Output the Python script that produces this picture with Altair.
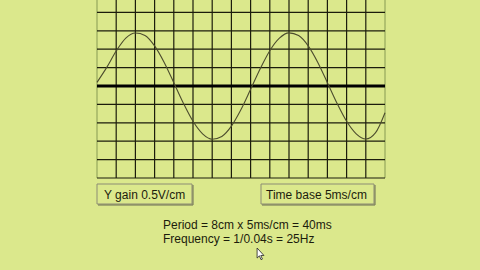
import altair as alt
import pandas as pd

# ---- values ----
# trace samples: horizontal position (cm from the left edge) and deflection (cm)
wave_x = [0, 0.5, 1, 1.5, 2, 2.5, 3, 3.5, 4, 4.5, 5, 5.5, 6, 6.5, 7, 7.5,
          8, 8.5, 9, 9.5, 10, 10.5, 11, 11.5, 12, 12.5, 13, 13.5, 14, 14.5, 15]
wave_y = [0.2, 1.0, 1.9, 2.6, 2.88, 2.75, 2.18, 1.28, 0.18, -0.94, -1.92, -2.6,
          -2.89, -2.74, -2.18, -1.28, -0.18, 0.94, 1.92, 2.6, 2.89, 2.74, 2.18,
          1.28, 0.18, -0.94, -1.92, -2.6, -2.88, -2.55, -1.45]
# graticule lines (cm)
grid_x = [1, 2, 3, 4, 5, 6, 7, 8, 9, 10, 11, 12, 13, 14]
edge_x = [0, 15]
grid_y = [-5, -4, -3, -2, -1, 1, 2, 3, 4]
baseline_y = [0]
# labels
gain_label = ["Y gain 0.5V/cm"]
time_label = ["Time base 5ms/cm"]
result_lines = ["Period = 8cm x 5ms/cm = 40ms", "Frequency = 1/0.04s = 25Hz"]

X_MIN, X_MAX = 0, 15
Y_MIN, Y_MAX = -5, 4.674

BG = "#dbe88c"
INK = "#1c1c0c"
FONT = "Liberation Sans"

xs = alt.Scale(domain=[X_MIN, X_MAX], nice=False, zero=False)
ys = alt.Scale(domain=[Y_MIN, Y_MAX], nice=False, zero=False)

vdf = pd.DataFrame({"x": grid_x, "y0": Y_MIN, "y1": Y_MAX})
edf = pd.DataFrame({"x": edge_x, "y0": Y_MIN, "y1": Y_MAX})
hdf = pd.DataFrame({"y": grid_y, "x0": X_MIN, "x1": X_MAX})
bdf = pd.DataFrame({"y": baseline_y, "x0": X_MIN, "x1": X_MAX})
wdf = pd.DataFrame({"x": wave_x, "y": wave_y})

vlines = alt.Chart(vdf).mark_rule(color=INK, strokeWidth=1.2).encode(
    x=alt.X("x:Q", scale=xs, axis=None),
    y=alt.Y("y0:Q", scale=ys, axis=None), y2="y1:Q")
edges = alt.Chart(edf).mark_rule(color="#a3b466", strokeWidth=1.5).encode(
    x=alt.X("x:Q", scale=xs, axis=None),
    y=alt.Y("y0:Q", scale=ys, axis=None), y2="y1:Q")
hlines = alt.Chart(hdf).mark_rule(color=INK, strokeWidth=1.2).encode(
    y=alt.Y("y:Q", scale=ys, axis=None),
    x=alt.X("x0:Q", scale=xs, axis=None), x2="x1:Q")
base = alt.Chart(bdf).mark_rule(color="#000000", strokeWidth=3).encode(
    y=alt.Y("y:Q", scale=ys, axis=None),
    x=alt.X("x0:Q", scale=xs, axis=None), x2="x1:Q")
wave = alt.Chart(wdf).mark_line(color="#4d4d2e", strokeWidth=1.1,
                                interpolate="monotone").encode(
    x=alt.X("x:Q", scale=xs, axis=None),
    y=alt.Y("y:Q", scale=ys, axis=None))


def box(label, x0, x1, tx):
    d = pd.DataFrame({"t": label})
    rect = alt.Chart(d).mark_rect(fill=BG, stroke="#8c8c74", strokeWidth=1).encode(
        x=alt.value(x0), x2=alt.value(x1), y=alt.value(184), y2=alt.value(204))
    shadow_b = alt.Chart(d).mark_rule(color="#6a6a55", strokeWidth=1).encode(
        x=alt.value(x0 + 1), x2=alt.value(x1 + 1), y=alt.value(205))
    shadow_r = alt.Chart(d).mark_rule(color="#6a6a55", strokeWidth=1).encode(
        x=alt.value(x1 + 1), y=alt.value(185), y2=alt.value(205))
    txt = alt.Chart(d).mark_text(align="left", baseline="alphabetic", font=FONT,
                                 fontSize=12, color=INK).encode(
        text="t:N", x=alt.value(tx), y=alt.value(198.5))
    return rect + shadow_b + shadow_r + txt


gain_box = box(gain_label, 0, 95, 7)
time_box = box(time_label, 164, 277, 169)

rdf = pd.DataFrame({"t": result_lines, "row": [0, 1]})
results = alt.Chart(rdf).mark_text(align="left", baseline="alphabetic", font=FONT,
                                   fontSize=12, color=INK).encode(
    text="t:N", x=alt.value(66),
    y=alt.Y("row:Q", scale=alt.Scale(domain=[0, 1], range=[229, 243]), axis=None))

cursor_path = "M-0.6,-1 L-0.6,0.55 L-0.25,0.2 L0.0,0.8 L0.22,0.7 L-0.03,0.15 L0.45,0.15 Z"
cursor = alt.Chart(pd.DataFrame({"c": [1]})).mark_point(
    shape=cursor_path, size=169, filled=True, fill="#ffffff", stroke="#222222",
    strokeWidth=0.8, opacity=1).encode(x=alt.value(164), y=alt.value(254.5))

chart = alt.layer(edges, vlines, hlines, base, wave, gain_box, time_box, results, cursor).properties(
    width=288, height=178,
    autosize=alt.AutoSizeParams(type="none"),
    padding={"left": 97, "top": 0, "right": 95, "bottom": 92},
    background=BG,
).resolve_scale(y="independent").configure_view(stroke=None)

chart.save("out.html", embed_options={"renderer": "svg", "actions": False})
